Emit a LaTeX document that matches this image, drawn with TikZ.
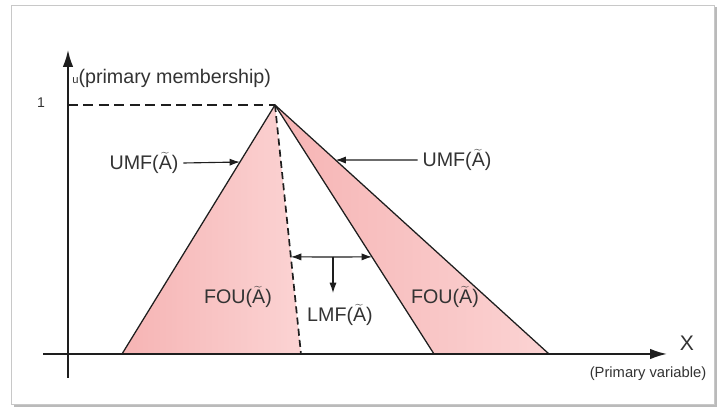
\documentclass[tikz,border=0pt]{standalone}
\usepackage{fontspec}
\setmainfont{Liberation Sans}
\usetikzlibrary{arrows.meta, positioning, calc}
\definecolor{inkgray}{HTML}{1E1E1E}
\definecolor{labgray}{HTML}{333333}
\definecolor{foudark}{HTML}{F6B4B4}
\definecolor{foulight}{HTML}{FBD3D3}
\definecolor{frameln}{HTML}{C8C8C8}
\definecolor{shadow}{HTML}{8C8C8C}
\newcommand{\tA}{$\widetilde{\hbox{A}}$}

\begin{document}
\begin{tikzpicture}[
  >={Latex[length=2.6mm, width=1.8mm]},
  every node/.style={text=labgray, font=\fontsize{14}{16}\selectfont},
  axis/.style={inkgray, line width=1.3pt},
  edge/.style={inkgray, line width=0.9pt},
  pointer/.style={inkgray, line width=0.8pt, ->},
]

% Background and frame
\useasboundingbox (0,0) rectangle (18,10.225);
\fill[shadow!60] (0.36,0.06) rectangle (17.93,10.04);
\draw[frameln, fill=white, line width=0.6pt] (0.275,0.125) rectangle (17.85,10.1);

% Shape points
\coordinate (peak) at (6.875,7.6);
\coordinate (lfoot) at (3.05,1.375);
\coordinate (lmffoot) at (7.525,1.375);
\coordinate (infoot) at (10.85,1.375);
\coordinate (outfoot) at (13.725,1.375);

% FOU regions
\shade[left color=foudark, right color=foulight] (peak) -- (lfoot) -- (lmffoot) -- cycle;
\shade[left color=foudark, right color=foulight] (peak) -- (infoot) -- (outfoot) -- cycle;

% Axes
\draw[axis, -{Latex[length=4.2mm, width=2.6mm]}] (1.7,0.775) -- (1.7,8.975);
\draw[axis, -{Latex[length=4.2mm, width=2.6mm]}] (1.075,1.375) -- (16.675,1.375);

% Level 1
\node (one) [font=\fontsize{10}{12}\selectfont] at (1.025,7.65) {1};
\draw[edge, dash pattern=on 7pt off 4pt] (1.7,7.6) -- (peak);

% Membership functions
\draw[edge] (lfoot) -- (peak) -- (outfoot);
\draw[edge] (peak) -- (infoot);
\draw[inkgray, line width=1.2pt, dash pattern=on 5pt off 3pt] (peak) -- (lmffoot);

% Axis labels
\node (ulab) [anchor=west, inner sep=0pt] at (1.8,8.275) {{\fontsize{8}{9}\selectfont u}(primary membership)};
\node (xlab) [font=\fontsize{15}{17}\selectfont] at (17.175,1.65) {X};
\node (xsub) [font=\fontsize{10.5}{12}\selectfont] at (16.2,0.875) {(Primary variable)};

% UMF pointers
\node (umfl) at (3.6,6.15) {UMF(\tA)};
\node (umfr) at (11.425,6.225) {UMF(\tA)};
\coordinate (umfltip) at ($(peak)!0.229!(lfoot)$);
\coordinate (umfrtip) at ($(peak)!0.221!(outfoot)$);
\draw[pointer] (umfl.east) -- (umfltip);
\draw[pointer] (umfr.west) -- (umfrtip);

% LMF pointers
\coordinate (lmfl) at ($(peak)!0.61!(lmffoot)$);
\coordinate (lmfr) at ($(peak)!0.61!(infoot)$);
\coordinate (lmfmid) at (8.325,3.8);
\coordinate (lmfdown) at (8.325,2.9);
\draw[pointer] (lmfmid) -- (lmfl);
\draw[pointer] (lmfmid) -- (lmfr);
\draw[pointer] (lmfmid) -- (lmfdown);
\node (lmf) at (8.5,2.35) {LMF(\tA)};

% FOU labels
\node (foul) at (5.95,2.8) {FOU(\tA)};
\node (four) at (11.125,2.8) {FOU(\tA)};

\end{tikzpicture}
\end{document}
